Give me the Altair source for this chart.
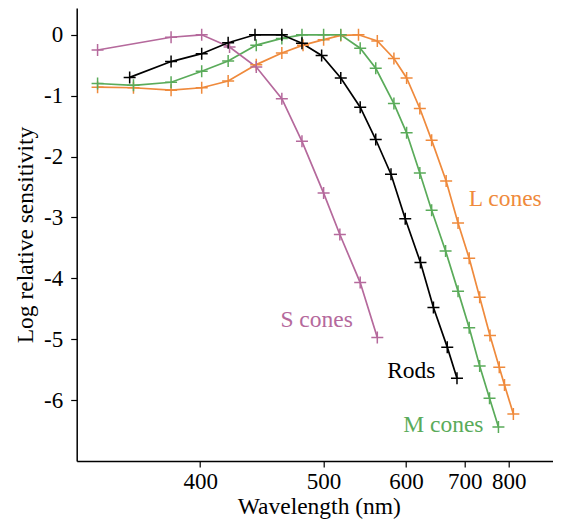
import altair as alt
import pandas as pd

# ---- data ----
series_names = ["L cones", "M cones", "S cones", "Rods"]
series_colors = ["#ef8a3c", "#5aab5a", "#b5699c", "#000000"]

s_wl = [343, 382, 401, 420, 440, 461, 479, 500, 517, 540, 561]
s_val = [-0.25, -0.04, 0.0, -0.20, -0.53, -1.05, -1.75, -2.60, -3.28, -4.07, -4.97]

rods_wl = [359, 382, 401, 419, 439, 461, 479, 498, 518, 540, 559, 579, 599, 622, 643, 667, 685]
rods_val = [-0.70, -0.44, -0.31, -0.13, 0.0, 0.0, -0.14, -0.34, -0.71, -1.19, -1.72,
            -2.29, -3.02, -3.74, -4.48, -5.13, -5.64]

m_wl = [343, 361, 382, 401, 419, 440, 461, 479, 500, 518, 540, 559, 583, 601, 621, 640,
        664, 687, 709, 731, 753, 774]
m_val = [-0.80, -0.83, -0.78, -0.60, -0.43, -0.17, -0.06, 0.0, 0.0, 0.0, -0.22, -0.55,
         -1.13, -1.61, -2.27, -2.88, -3.55, -4.21, -4.81, -5.44, -5.97, -6.44]

l_wl = [343, 361, 382, 401, 419, 440, 461, 480, 500, 518, 538, 561, 583, 601, 621, 640,
        665, 687, 709, 731, 754, 776, 789, 812]
l_val = [-0.86, -0.87, -0.91, -0.87, -0.76, -0.49, -0.30, -0.17, -0.08, -0.01, 0.0, -0.10,
         -0.39, -0.71, -1.21, -1.73, -2.40, -3.09, -3.67, -4.31, -4.94, -5.46, -5.75, -6.23]

label_text = ["S cones", "Rods", "M cones", "L cones"]
label_wl = [493, 608, 660, 791]
label_val = [-4.69, -5.53, -6.41, -2.70]

x_tick_wl = [400, 500, 600, 700, 800]
y_ticks = [0, -1, -2, -3, -4, -5, -6]

# ---- tables ----
rows = []
for name, wl, val in [("L cones", l_wl, l_val), ("M cones", m_wl, m_val),
                      ("S cones", s_wl, s_val), ("Rods", rods_wl, rods_val)]:
    for w, v in zip(wl, val):
        rows.append({"series": name, "wavelength": w, "value": v})
df = pd.DataFrame(rows)
labels_df = pd.DataFrame({"series": label_text, "wavelength": label_wl, "value": label_val})

FONT = "Liberation Serif"

x_scale = alt.Scale(domain=[1.0386, 3.0], reverse=True, nice=False, zero=False)
y_scale = alt.Scale(domain=[-7, 0.44], nice=False, zero=False)
color_scale = alt.Scale(domain=series_names, range=series_colors)

x_enc = alt.X(
    "u:Q", scale=x_scale,
    axis=alt.Axis(values=[1000 / w for w in x_tick_wl],
                  labelExpr="format(1000/datum.value, '.0f')",
                  title="Wavelength (nm)", grid=False, labelPadding=3, titlePadding=1),
)
y_enc = alt.Y(
    "value:Q", scale=y_scale,
    axis=alt.Axis(values=y_ticks, labelExpr="'' + datum.value",
                  title="Log relative sensitivity", grid=False, labelPadding=8,
                  titlePadding=6),
)
color_enc = alt.Color("series:N", scale=color_scale, legend=None)

base = alt.Chart(df).transform_calculate(u="1000/datum.wavelength")

lines = base.mark_line(strokeWidth=1.7).encode(x=x_enc, y=y_enc, color=color_enc,
                                              order="wavelength:Q")
points = base.mark_point(shape="M-1,0L1,0M0,-1L0,1", size=144, strokeWidth=1.5,
                         filled=False, opacity=1).encode(x=x_enc, y=y_enc, color=color_enc)

texts = alt.Chart(labels_df).transform_calculate(u="1000/datum.wavelength").mark_text(
    font=FONT, fontSize=23.5, align="center", baseline="middle"
).encode(x=x_enc, y=y_enc, text="series:N", color=color_enc)

chart = alt.layer(lines, points, texts).properties(
    width=484.3, height=453,
    padding={"left": 68.7, "top": 0, "right": -8, "bottom": 58},
    autosize=alt.AutoSizeParams(type="none"),
).configure_view(stroke=None).configure_axis(
    domainColor="black", domainWidth=1.5, tickColor="black", tickWidth=1.2, tickSize=6,
    labelFont=FONT, labelFontSize=23, labelColor="black",
    titleFont=FONT, titleFontSize=23.5, titleFontWeight="normal", titleColor="black",
)

chart.save("out.html", embed_options={"renderer": "svg", "actions": False})
